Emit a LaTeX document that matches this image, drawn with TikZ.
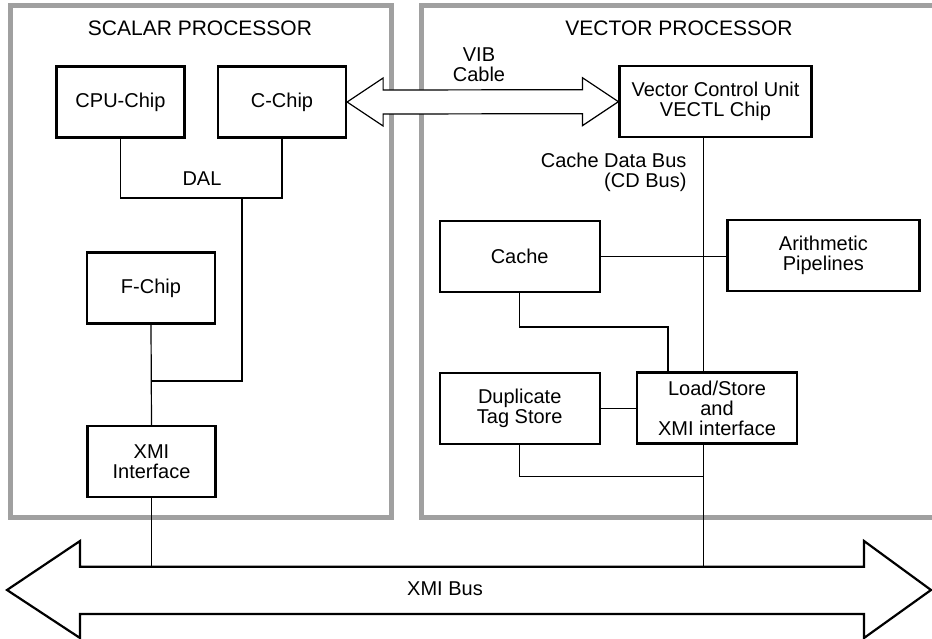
\documentclass[tikz,border=0pt]{standalone}
\usepackage{fontspec}
\setmainfont{Liberation Sans}
\usetikzlibrary{calc}
\definecolor{framegray}{RGB}{160,160,160}
\tikzset{
  chipbox/.style={
    draw, line width=2.2pt, fill=white, align=center,
    minimum width=128pt, minimum height=71pt, inner sep=2pt,
    font=\fontsize{20}{20}\selectfont
  },
  chipboxmid/.style={chipbox, minimum width=160pt},
  chipboxwide/.style={chipbox, minimum width=192pt},
  procframe/.style={draw=framegray, line width=5pt},
  proctitle/.style={font=\fontsize{21}{21}\selectfont},
  wire/.style={line width=1.2pt},
  wirelabel/.style={font=\fontsize{20}{20}\selectfont, align=center},
  cablearrow/.style={line width=1.2pt, fill=white, line join=miter},
  busarrow/.style={line width=2.2pt, fill=white, line join=miter},
}

\begin{document}
\begin{tikzpicture}[x=1pt, y=-1pt]
  \useasboundingbox (0,0) rectangle (932,639);
  \clip (0,0) rectangle (932,639);

  % Processor frames
  \draw[procframe] (10,6) rectangle (391,517.5);
  \draw[procframe] (421,6) rectangle (950,517.5);
  \node[proctitle] (scalartitle) at (200,28) {SCALAR PROCESSOR};
  \node[proctitle] (vectortitle) at (679,28) {VECTOR PROCESSOR};

  % Scalar side
  \node[chipbox] (cpu) at (120.5,102) {CPU-Chip};
  \node[chipbox] (cchip) at (282,102) {C-Chip};
  \node[chipbox] (fchip) at (151,288) {F-Chip};
  \node[chipbox] (xmiif) at (151.5,461.5) {XMI\\Interface};

  % Vector side
  \node[chipboxwide] (vcu) at (715.5,101.7) {Vector Control Unit\\VECTL Chip};
  \node[chipboxmid] (cache) at (519.7,256.3) {Cache};
  \node[chipboxwide] (arith) at (823.4,255.4) {Arithmetic\\Pipelines};
  \node[chipboxmid] (duptag) at (519.7,408.2) {Duplicate\\Tag Store};
  \node[chipboxmid] (ldst) at (717,408) {Load/Store\\and\\XMI interface};

  % XMI bus
  \draw[busarrow] (7,590) -- (80,541) -- (80,566.7) -- (864,566.7) -- (864,541)
    -- (931,590) -- (864,638) -- (864,614) -- (80,614) -- (80,638) -- cycle;
  \node[wirelabel] (xmibus) at (445,589) {XMI Bus};
  \coordinate (bustop) at (466,566.7);

  % VIB cable
  \draw[cablearrow] (cchip.east) -- ++(36,-24) -- ++(0,12)
    -- ($(vcu.west)+(-36,-12)$) -- ++(0,-12) -- (vcu.west) -- ++(-36,24)
    -- ++(0,-12) -- ($(cchip.east)+(36,12)$) -- ++(0,12) -- cycle;
  \node[wirelabel] (viblabel) at (479,65) {VIB\\Cable};

  % Scalar wiring
  \coordinate (dal) at (242,198);
  \coordinate (fjoin) at (151,381);
  \draw[wire] (cpu.south) |- (dal) -| (cchip.south);
  \draw[wire] (dal) |- (fjoin);
  \draw[wire] (fchip.south) -- (xmiif.north);
  \draw[wire] (xmiif.south) -- (xmiif.south |- bustop);
  \node[wirelabel] (dallabel) at (202,179) {DAL};

  % Vector wiring
  \coordinate (cdtop) at ($(vcu.south)+(-12,0)$);
  \draw[wire] (cdtop) -- (cdtop |- ldst.north);
  \draw[wire] (cdtop |- ldst.south) -- (cdtop |- bustop);
  \node[wirelabel, anchor=east, align=right] (cdlabel) at (690,172) {Cache Data Bus\\(CD Bus)};
  \draw[wire] (cache.east) -- (cache.east -| arith.west);
  \draw[wire] (cache.south) -- ++(0,34) -| ($(ldst.north)+(-49,0)$);
  \draw[wire] (duptag.east) -- (duptag.east -| ldst.west);
  \coordinate (duptap) at ($(cdtop |- ldst.south)+(0,32)$);
  \draw[wire] (duptag.south) |- (duptap);
\end{tikzpicture}
\end{document}
